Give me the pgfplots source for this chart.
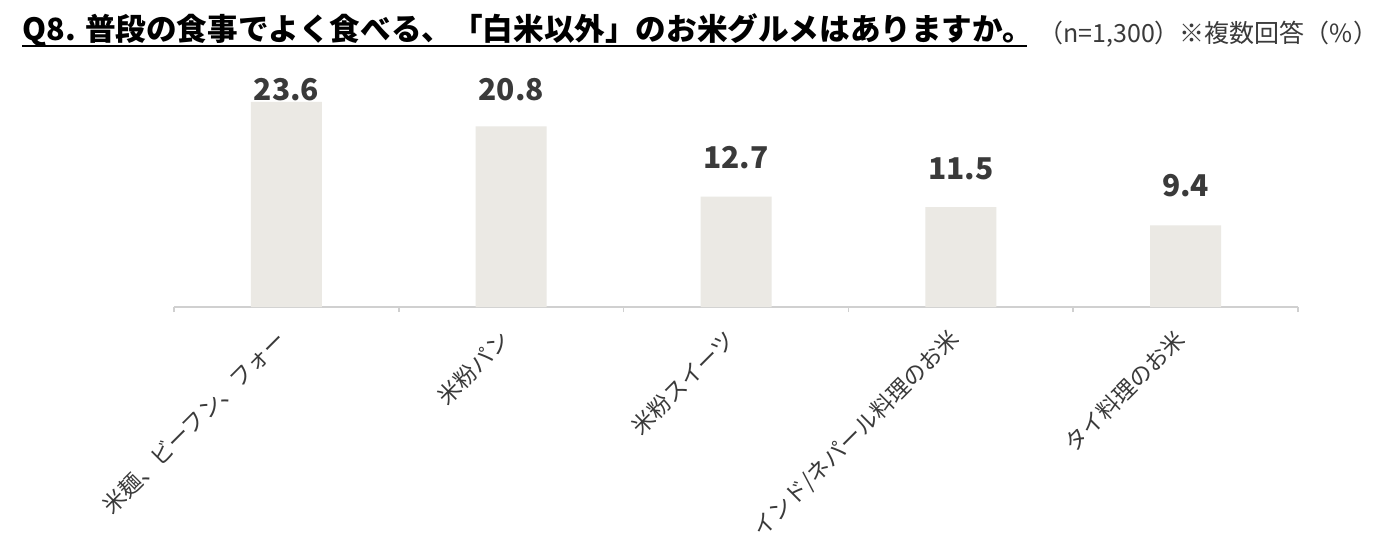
\documentclass[border=0pt]{standalone}
\usepackage{fontspec}
\setmainfont{Noto Sans CJK JP}
\usepackage{pgfplots}
\pgfplotsset{compat=1.18}
\definecolor{barc}{HTML}{EBE9E4}
\definecolor{txt}{HTML}{3A3A3A}
\definecolor{axc}{HTML}{D0D0D0}
\begin{document}
\begin{tikzpicture}[x=1pt,y=1pt]
\useasboundingbox (0,0) rectangle (700,279.5);
\fill[white] (0,0) rectangle (700,279.5);
\node[anchor=base west, inner sep=0pt, font=\bfseries\fontsize{15.3}{18}\selectfont, text=black] (title) at (11,259.5) {Q8. 普段の食事でよく食べる、「白米以外」のお米グルメはありますか。};
\draw[black, line width=1pt] (11,256.3) -- (513.5,256.3);
\node[anchor=base west, inner sep=0pt, font=\fontsize{12.5}{14}\selectfont, text=txt] at (519,258.5) {（n=1,300）※複数回答（\%）};
\begin{axis}[
  at={(87pt,126pt)}, anchor=south west,
  scale only axis, width=562pt, height=130.35pt,
  xmin=-0.5, xmax=4.5, ymin=0, ymax=30,
  axis y line=none, axis x line*=bottom,
  x axis line style={draw=axc, line width=0.8pt, -},
  xtick={0,1,2,3,4},
  xticklabels={米麺、ビーフン、フォー,米粉パン,米粉スイーツ,インド/ネパール料理のお米,タイ料理のお米},
  major tick length=0pt,
  extra x ticks={-0.5,0.5,1.5,2.5,3.5,4.5},
  extra x tick style={xticklabel={}, major tick length=2.5pt, tick align=outside, tick style={draw=axc, line width=0.8pt}},
  xticklabel style={xshift=-2.5pt, yshift=-14pt, rotate=45, anchor=east, inner sep=0pt, font=\fontsize{11.3}{13}\selectfont, text=txt},
  clip=false,
]
\addplot[ybar, bar width=35.5pt, fill=barc, draw=none] coordinates {(0,23.6) (1,20.8) (2,12.7) (3,11.5) (4,9.4)};
\addplot[draw=none, mark=none, nodes near coords, point meta=explicit symbolic,
  every node near coord/.style={font=\bfseries\fontsize{15}{18}\selectfont, text=txt, anchor=center}]
  coordinates {(0,25.03)[23.6] (1,25.03)[20.8] (2,17.2)[12.7] (3,15.94)[11.5] (4,13.92)[9.4]};
\end{axis}
\end{tikzpicture}
\end{document}
